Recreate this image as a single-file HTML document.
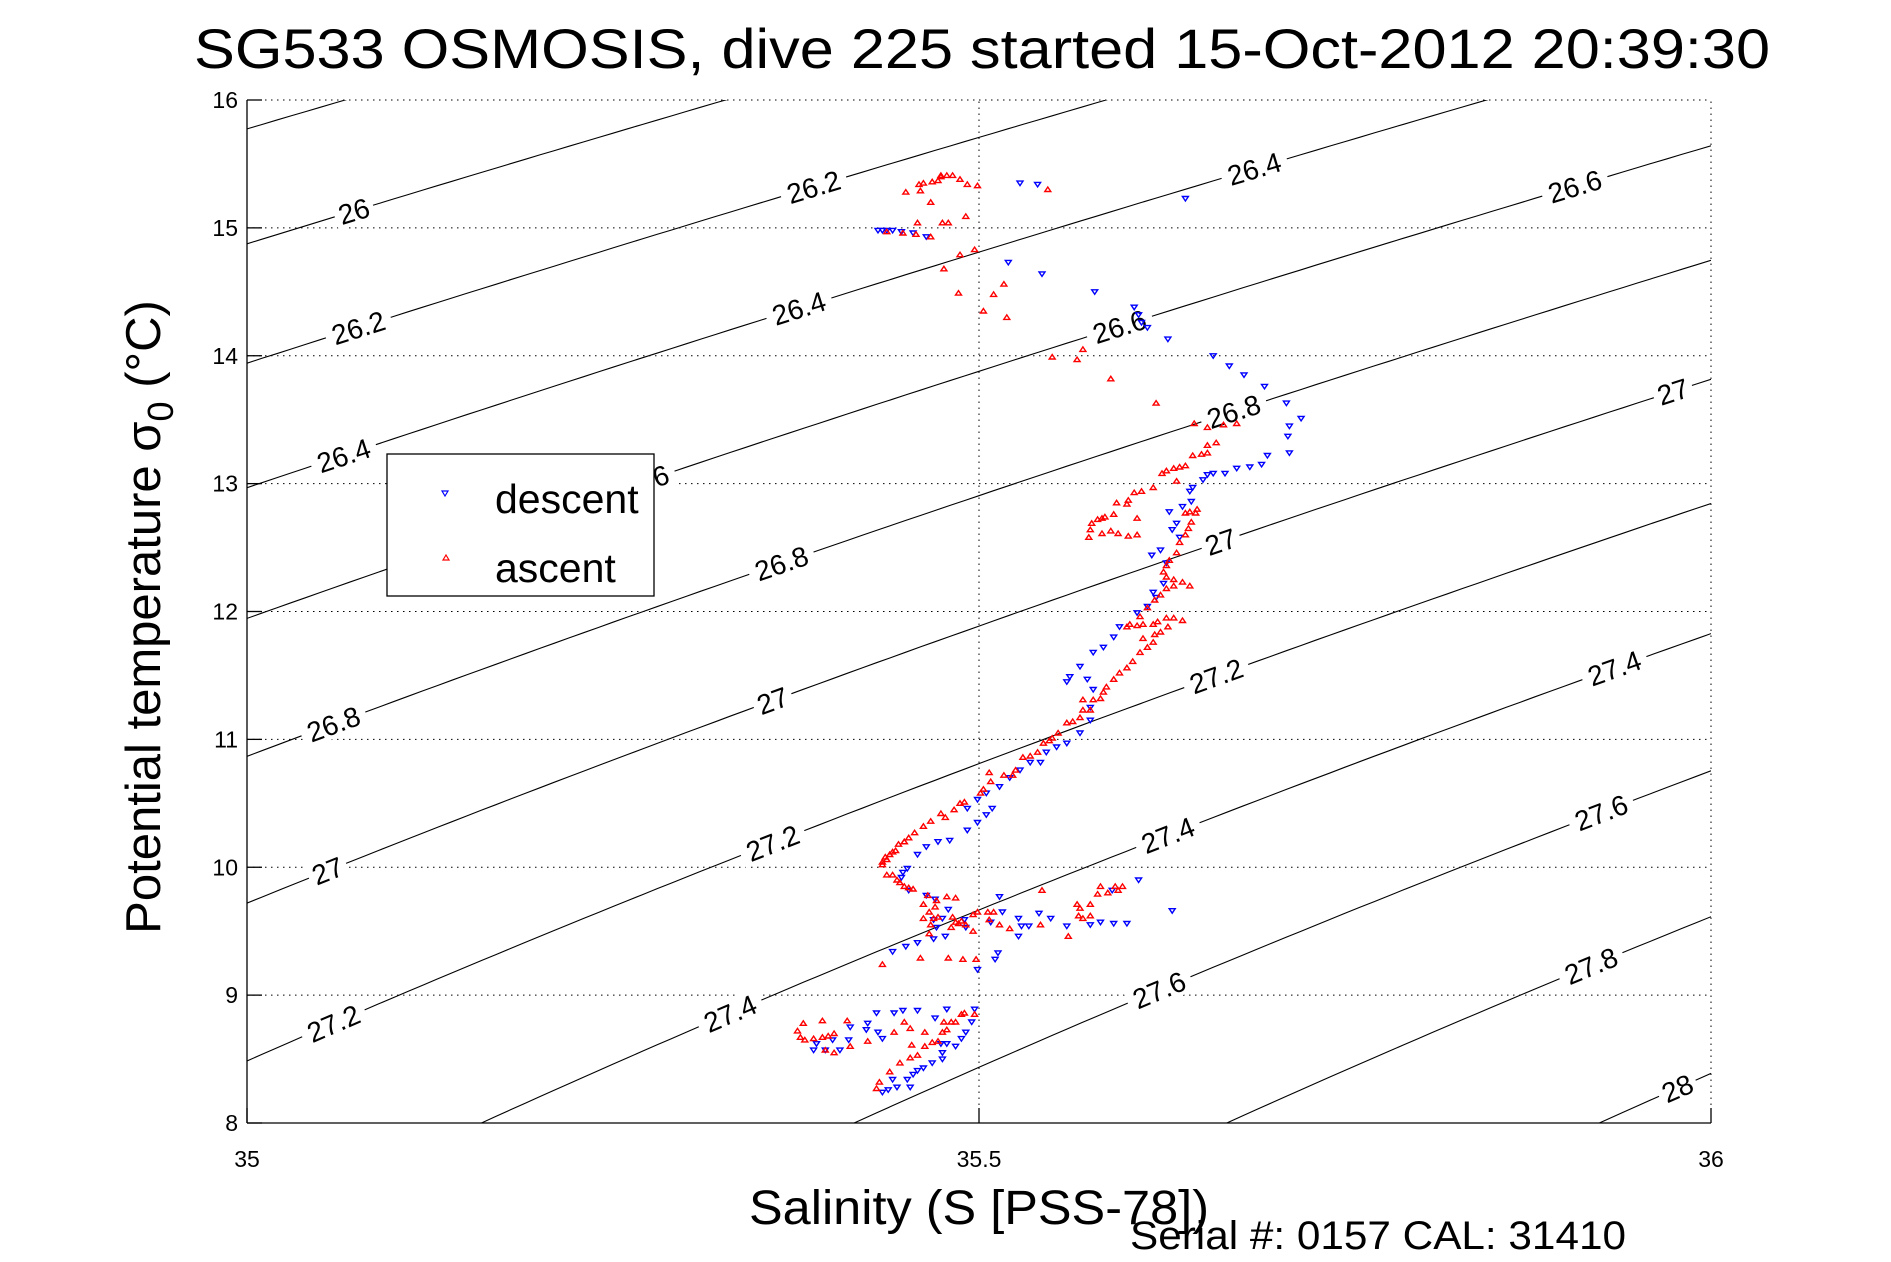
<!DOCTYPE html>
<html><head><meta charset="utf-8">
<style>
html,body{margin:0;padding:0;background:#fff;width:1891px;height:1262px;overflow:hidden;}
svg{display:block;font-family:"Liberation Sans",sans-serif;}
</style></head>
<body>
<svg id="chart" width="1891" height="1262" viewBox="0 0 1891 1262" xmlns="http://www.w3.org/2000/svg">
<rect x="0" y="0" width="1891" height="1262" fill="#fff"/>
<text x="982" y="68" font-size="56" text-anchor="middle" textLength="1576" lengthAdjust="spacingAndGlyphs">SG533 OSMOSIS, dive 225 started 15-Oct-2012 20:39:30</text>
<g id="grid"></g>
<g id="contours"></g>
<g id="clabels"></g>
<g id="descent"></g>
<g id="ascent"></g>
<g id="axes"></g>
<g>
<rect x="387" y="454" width="267" height="142" fill="#fff" stroke="#000" stroke-width="1.3"/>
<polygon points="442,491 448,491 445,496" fill="none" stroke="#0000ff" stroke-width="1.2"/>
<text x="495" y="513" font-size="41">descent</text>
<polygon points="443,560 449,560 446,555" fill="none" stroke="#ff0000" stroke-width="1.2"/>
<text x="495" y="582" font-size="41">ascent</text>
</g>
<text x="979" y="1224" font-size="48" text-anchor="middle" textLength="460" lengthAdjust="spacingAndGlyphs">Salinity (S [PSS-78])</text>
<text x="1378" y="1249" font-size="40" text-anchor="middle" textLength="496" lengthAdjust="spacingAndGlyphs">Serial #: 0157  CAL: 31410</text>
<text transform="translate(160,617) rotate(-90)" font-size="49" text-anchor="middle">Potential temperature σ<tspan font-size="36" dy="13">0</tspan><tspan dy="-13"> (°C)</tspan></text>
</svg>
<script>
// ---- data ----
const xTicks = [35, 35.5, 36];
const xTickLabels = ["35", "35.5", "36"];
const yTicks = [8, 9, 10, 11, 12, 13, 14, 15, 16];
const yTickLabels = ["8", "9", "10", "11", "12", "13", "14", "15", "16"];
const densityLevels = [25.8, 26, 26.2, 26.4, 26.6, 26.8, 27, 27.2, 27.4, 27.6, 27.8, 28];
const labelLevels = [26, 26.2, 26.2, 26.4, 26.4, 26.4, 26.6, 26.6, 26.6, 26.8, 26.8, 26.8, 27, 27, 27, 27, 27.2, 27.2, 27.2, 27.4, 27.4, 27.4, 27.6, 27.6, 27.8, 28];
const labelSal = [35.073, 35.076, 35.387, 35.066, 35.377, 35.688, 35.27, 35.596, 35.907, 35.059, 35.365, 35.674, 35.055, 35.359, 35.665, 35.974, 35.059, 35.359, 35.662, 35.33, 35.629, 35.934, 35.623, 35.925, 35.918, 35.977];
const descentS = [35.431,35.434,35.437,35.441,35.447,35.455,35.464,35.528,35.540,35.641,35.520,35.543,35.579,35.606,35.609,35.611,35.615,35.629,35.66,35.671,35.681,35.695,35.71,35.72,35.712,35.711,35.712,35.697,35.693,35.685,35.676,35.668,35.66,35.656,35.653,35.646,35.644,35.645,35.639,35.63,35.635,35.632,35.637,35.624,35.618,35.628,35.626,35.621,35.619,35.615,35.608,35.596,35.592,35.585,35.578,35.569,35.562,35.56,35.574,35.578,35.576,35.576,35.569,35.56,35.553,35.546,35.542,35.535,35.528,35.521,35.514,35.505,35.499,35.492,35.509,35.505,35.499,35.492,35.48,35.472,35.464,35.458,35.451,35.448,35.447,35.452,35.464,35.47,35.479,35.475,35.469,35.471,35.477,35.469,35.458,35.45,35.441,35.49,35.491,35.499,35.511,35.513,35.508,35.516,35.514,35.527,35.529,35.534,35.527,35.541,35.549,35.56,35.576,35.583,35.592,35.601,35.609,35.632,35.591,35.497,35.495,35.491,35.488,35.484,35.478,35.474,35.475,35.475,35.468,35.462,35.458,35.455,35.451,35.453,35.444,35.438,35.434,35.441,35.478,35.47,35.458,35.448,35.442,35.43,35.424,35.423,35.431,35.434,35.411,35.412,35.405,35.387,35.389,35.395,35.4];
const descentT = [14.98,14.98,14.98,14.98,14.97,14.96,14.93,15.35,15.34,15.23,14.73,14.64,14.50,14.38,14.32,14.26,14.22,14.13,14.0,13.92,13.85,13.76,13.63,13.51,13.45,13.37,13.24,13.22,13.15,13.13,13.12,13.08,13.08,13.07,13.03,12.97,12.94,12.86,12.82,12.78,12.69,12.64,12.58,12.48,12.44,12.38,12.22,12.11,12.15,12.04,11.99,11.88,11.80,11.72,11.68,11.57,11.49,11.45,11.47,11.39,11.25,11.15,11.05,10.97,10.94,10.90,10.82,10.82,10.76,10.70,10.63,10.58,10.53,10.46,10.46,10.41,10.35,10.29,10.21,10.20,10.16,10.10,9.99,9.96,9.92,9.82,9.78,9.75,9.67,9.60,9.59,9.53,9.46,9.44,9.41,9.38,9.34,9.59,9.53,9.20,9.28,9.33,9.57,9.65,9.77,9.60,9.54,9.54,9.46,9.64,9.60,9.54,9.55,9.57,9.56,9.56,9.90,9.66,9.82,8.89,8.79,8.71,8.66,8.60,8.62,8.62,8.55,8.50,8.47,8.43,8.41,8.38,8.34,8.28,8.28,8.26,8.24,8.34,8.89,8.82,8.88,8.88,8.86,8.86,8.78,8.73,8.71,8.66,8.65,8.75,8.57,8.57,8.62,8.57,8.65];
const ascentS = [35.43,35.432,35.439,35.446,35.453,35.458,35.454,35.463,35.468,35.472,35.478,35.476,35.481,35.484,35.488,35.49,35.497,35.453,35.449,35.463,35.475,35.442,35.424,35.41,35.393,35.38,35.376,35.378,35.381,35.387,35.393,35.397,35.401,35.395,35.401,35.412,35.434,35.46,35.479,35.489,35.498,35.496,35.491,35.488,35.486,35.484,35.481,35.482,35.472,35.469,35.462,35.467,35.466,35.462,35.466,35.47,35.478,35.484,35.471,35.465,35.455,35.452,35.449,35.446,35.444,35.441,35.437,35.434,35.434,35.437,35.439,35.443,35.445,35.449,35.499,35.506,35.51,35.496,35.507,35.514,35.521,35.542,35.543,35.561,35.567,35.569,35.576,35.568,35.571,35.576,35.581,35.583,35.588,35.593,35.595,35.598,35.436,35.441,35.449,35.452,35.456,35.462,35.467,35.477,35.474,35.483,35.487,35.49,35.501,35.503,35.508,35.507,35.517,35.523,35.525,35.53,35.535,35.54,35.544,35.548,35.55,35.554,35.56,35.564,35.569,35.571,35.576,35.571,35.578,35.583,35.585,35.587,35.592,35.596,35.601,35.605,35.61,35.615,35.612,35.619,35.62,35.624,35.629,35.639,35.633,35.628,35.622,35.619,35.612,35.608,35.603,35.601,35.61,35.615,35.62,35.624,35.628,35.633,35.639,35.644,35.633,35.628,35.626,35.628,35.63,35.635,35.637,35.641,35.643,35.645,35.648,35.649,35.644,35.641,35.635,35.619,35.611,35.606,35.602,35.601,35.594,35.592,35.586,35.584,35.581,35.577,35.576,35.575,35.584,35.59,35.595,35.602,35.608,35.608,35.625,35.628,35.633,35.637,35.641,35.646,35.652,35.656,35.656,35.662,35.656,35.647,35.667,35.676,35.621,35.59,35.571,35.567,35.55,35.519,35.503,35.486,35.51,35.517,35.476,35.487,35.497,35.491,35.479,35.475,35.458,35.467,35.457,35.448,35.437,35.467,35.46,35.45,35.459,35.462,35.468,35.472,35.474,35.474,35.478,35.482,35.487,35.492,35.499,35.547,35.553,35.582];
const ascentT = [8.27,8.32,8.40,8.47,8.51,8.53,8.61,8.60,8.63,8.64,8.73,8.79,8.79,8.79,8.85,8.86,8.85,8.74,8.79,8.71,8.71,8.71,8.64,8.80,8.80,8.78,8.72,8.67,8.65,8.66,8.67,8.68,8.70,8.57,8.55,8.60,9.24,9.29,9.29,9.28,9.28,9.50,9.55,9.58,9.56,9.57,9.53,9.61,9.61,9.60,9.60,9.55,9.48,9.71,9.65,9.69,9.77,9.76,9.74,9.78,9.83,9.84,9.85,9.88,9.90,9.94,9.94,10.02,10.04,10.06,10.10,10.13,10.18,10.20,9.65,9.65,9.65,9.63,9.59,9.55,9.52,9.55,9.82,9.46,9.71,9.68,9.71,9.62,9.60,9.62,9.79,9.85,9.80,9.85,9.82,9.85,10.08,10.12,10.20,10.23,10.27,10.32,10.36,10.39,10.42,10.45,10.50,10.51,10.58,10.61,10.67,10.74,10.72,10.72,10.76,10.86,10.87,10.90,10.97,10.99,11.01,11.05,11.13,11.14,11.17,11.23,11.23,11.31,11.31,11.32,11.37,11.41,11.47,11.52,11.56,11.61,11.68,11.72,11.79,11.76,11.82,11.84,11.88,11.93,11.95,11.95,11.92,11.90,11.90,11.89,11.90,11.88,11.96,12.03,12.09,12.13,12.18,12.20,12.23,12.20,12.25,12.27,12.31,12.36,12.40,12.46,12.54,12.60,12.65,12.70,12.77,12.80,12.78,12.77,13.02,12.97,12.94,12.93,12.87,12.84,12.85,12.76,12.74,12.73,12.72,12.69,12.64,12.58,12.61,12.63,12.61,12.59,12.60,12.73,13.08,13.10,13.12,13.13,13.14,13.22,13.23,13.24,13.30,13.32,13.44,13.47,13.46,13.47,13.63,13.82,14.05,13.97,13.99,14.30,14.35,14.49,14.48,14.56,14.68,14.79,14.83,15.09,15.04,15.04,15.04,14.93,14.95,14.96,14.97,15.20,15.29,15.28,15.34,15.35,15.36,15.37,15.40,15.41,15.41,15.41,15.38,15.34,15.33,15.30];

// ---- axis functions ----
const X0 = 247, X1 = 1711, Y0 = 1123, Y1 = 100;
const sMin = 35, sMax = 36, tMin = 8, tMax = 16;
function xs(s){ return X0 + (s - sMin) / (sMax - sMin) * (X1 - X0); }
function yt(t){ return Y0 - (t - tMin) / (tMax - tMin) * (Y0 - Y1); }
const NS = "http://www.w3.org/2000/svg";
function mk(tag, attrs, parent){ const e = document.createElementNS(NS, tag); for (const k in attrs) e.setAttribute(k, attrs[k]); parent.appendChild(e); return e; }

function sigma0(S, T){
  const rw = 999.842594 + 6.793952e-2*T - 9.095290e-3*T*T + 1.001685e-4*T*T*T - 1.120083e-6*T*T*T*T + 6.536332e-9*T*T*T*T*T;
  const A = 0.824493 - 4.0899e-3*T + 7.6438e-5*T*T - 8.2467e-7*T*T*T + 5.3875e-9*T*T*T*T;
  const B = -5.72466e-3 + 1.0227e-4*T - 1.6546e-6*T*T;
  return rw + A*S + B*Math.pow(S,1.5) + 4.8314e-4*S*S - 1000;
}
function tOnLevel(S, lev){
  let lo = -5, hi = 40;
  for (let i = 0; i < 60; i++){ const m = (lo + hi) / 2; if (sigma0(S, m) > lev) lo = m; else hi = m; }
  return (lo + hi) / 2;
}

// grid
const grid = document.getElementById('grid');
yTicks.forEach((t, i) => {
  const l = mk('line', {x1: X0, x2: X1, y1: yt(t), y2: yt(t), stroke: '#000', 'stroke-width': 1, 'stroke-dasharray': '1.5,4.5'}, grid);
  
  
});
xTicks.forEach((s, i) => {
  const l = mk('line', {x1: xs(s), x2: xs(s), y1: Y0, y2: Y1, stroke: '#000', 'stroke-width': 1, 'stroke-dasharray': '1.5,4.5'}, grid);
  
  
});

// contours
const cg = document.getElementById('contours');
mk('clipPath', {id: 'plotclip'}, cg);
mk('rect', {x: X0, y: Y1, width: X1 - X0, height: Y0 - Y1}, cg.lastChild);
densityLevels.forEach(lev => {
  let pts = [];
  for (let i = 0; i <= 100; i++){
    const s = sMin + (sMax - sMin) * i / 100;
    pts.push(xs(s).toFixed(1) + ',' + yt(tOnLevel(s, lev)).toFixed(1));
  }
  const p = mk('polyline', {points: pts.join(' '), fill: 'none', stroke: '#000', 'stroke-width': 1.1, 'clip-path': 'url(#plotclip)'}, cg);
  
  
});

// contour labels
const lg = document.getElementById('clabels');
labelLevels.forEach((lev, i) => {
  const s = labelSal[i];
  const t = tOnLevel(s, lev);
  const xa = xs(s - 0.01), ya = yt(tOnLevel(s - 0.01, lev));
  const xb = xs(s + 0.01), yb = yt(tOnLevel(s + 0.01, lev));
  const ang = Math.atan2(yb - ya, xb - xa) * 180 / Math.PI;
  const x = xs(s), y = yt(t);
  const txt = String(lev);
  const w = txt.length * 14 + 12;
  const g = mk('g', {transform: 'translate(' + x.toFixed(1) + ',' + y.toFixed(1) + ') rotate(' + ang.toFixed(1) + ')'}, lg);
  
  
  mk('rect', {x: -w/2, y: -14, width: w, height: 28, fill: '#fff'}, g);
  const tx = mk('text', {x: 0, y: 10, 'font-size': 28, 'text-anchor': 'middle'}, g);
  tx.textContent = txt;
});

// series
function drawSeries(id, S, T, color, down){
  const g = document.getElementById(id);
  for (let i = 0; i < S.length; i++){
    const x = xs(S[i]), y = yt(T[i]);
    const pts = down ? [[x-3,y-2],[x+3,y-2],[x,y+2.5]] : [[x-3,y+2],[x+3,y+2],[x,y-2.5]];
    const p = mk('polygon', {points: pts.map(q => q[0].toFixed(1) + ',' + q[1].toFixed(1)).join(' '), fill: 'none', stroke: color, 'stroke-width': 1.4}, g);
    
    
  }
}
drawSeries('descent', descentS, descentT, '#0000ff', true);
drawSeries('ascent', ascentS, ascentT, '#ff0000', false);

// axes
const ax = document.getElementById('axes');
const la = mk('line', {x1: X0, x2: X0, y1: Y1, y2: Y0, stroke: '#000', 'stroke-width': 1.3}, ax);


const lb = mk('line', {x1: X0, x2: X1, y1: Y0, y2: Y0, stroke: '#000', 'stroke-width': 1.3}, ax);


xTicks.forEach((s, i) => {
  mk('line', {x1: xs(s), x2: xs(s), y1: Y0, y2: Y0 - 15, stroke: '#000', 'stroke-width': 1.3}, ax);
  const t = mk('text', {x: xs(s), y: Y0 + 44, 'font-size': 23, 'text-anchor': 'middle'}, ax);
  t.textContent = xTickLabels[i];
  
  
});
yTicks.forEach((v, i) => {
  mk('line', {x1: X0, x2: X0 + 15, y1: yt(v), y2: yt(v), stroke: '#000', 'stroke-width': 1.3}, ax);
  const t = mk('text', {x: X0 - 9, y: yt(v) + 8, 'font-size': 23, 'text-anchor': 'end'}, ax);
  t.textContent = yTickLabels[i];
  
  
});
</script>
</body></html>
